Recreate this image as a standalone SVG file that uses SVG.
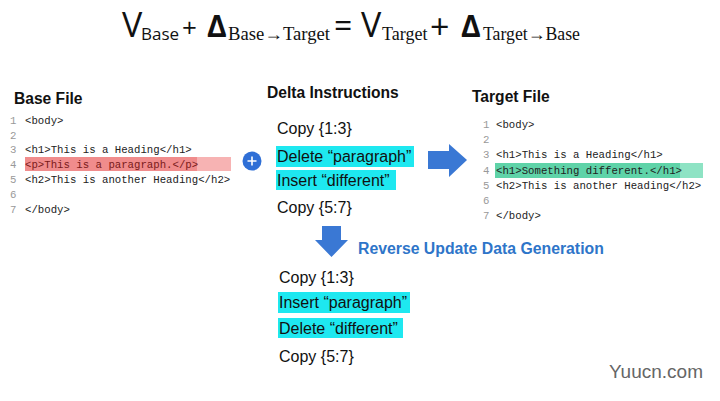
<svg xmlns="http://www.w3.org/2000/svg" width="720" height="401" viewBox="0 0 720 401">
<style>
.t{font-family:"Open Sans","Liberation Sans",sans-serif;fill:#111}
.s{font-family:"Liberation Serif",serif;fill:#111;font-size:18px}
.h{font-family:"Liberation Sans",Arial,sans-serif;font-weight:bold;font-size:15.6px;fill:#111}
.c{font-family:"Liberation Mono","DejaVu Sans Mono",monospace;font-size:10.7px;fill:#222}
.n{font-family:"Liberation Mono","DejaVu Sans Mono",monospace;font-size:10.7px;fill:#999}
.d{font-family:"Liberation Sans",Arial,sans-serif;font-size:16px;fill:#111}
.hl{fill:#1ee8f0}
.arrow{fill:#3a78d4}
</style>
<rect width="720" height="401" fill="#fff"/>
<g id="title">
<text class="t" x="122" y="37" font-size="34">V</text>
<text class="t" x="141" y="40" font-size="17">Base</text>
<text class="t" x="182" y="37" font-size="26">+</text>
<text class="t" x="207" y="37" font-size="30" font-weight="bold">Δ</text>
<text class="s" x="228" y="40" textLength="102" lengthAdjust="spacingAndGlyphs">Base→Target</text>
<text class="t" x="334" y="37" font-size="32">=</text>
<text class="t" x="361" y="37" font-size="34">V</text>
<text class="s" x="382" y="40">Target</text>
<text class="t" x="430" y="39" font-size="34">+</text>
<text class="t" x="461" y="37" font-size="30" font-weight="bold">Δ</text>
<text class="s" x="483" y="40" textLength="97" lengthAdjust="spacingAndGlyphs">Target→Base</text>
</g>
<g id="base-file">
<text class="h" x="14" y="104">Base File</text>
<rect x="25" y="157" width="206" height="14" fill="#f7b3b3"/>
<rect x="25" y="157" width="172" height="14" fill="#f08c8c"/>
<text class="n" x="10" y="124">1</text><text class="c" x="25" y="124">&lt;body&gt;</text>
<text class="n" x="10" y="139">2</text>
<text class="n" x="10" y="153">3</text><text class="c" x="25" y="153">&lt;h1&gt;This is a Heading&lt;/h1&gt;</text>
<text class="n" x="10" y="168">4</text><text class="c" x="25" y="168" style="fill:#7a1a1a">&lt;p&gt;This is a paragraph.&lt;/p&gt;</text>
<text class="n" x="10" y="183">5</text><text class="c" x="25" y="183">&lt;h2&gt;This is another Heading&lt;/h2&gt;</text>
<text class="n" x="10" y="198">6</text>
<text class="n" x="10" y="213">7</text><text class="c" x="25" y="213">&lt;/body&gt;</text>
</g>
<g id="plus">
<circle cx="252" cy="161" r="9.5" fill="#2f6fd6"/>
<path d="M247.5 161h9M252 156.5v9" stroke="#fff" stroke-width="1.6"/>
</g>
<g id="delta">
<text class="h" x="267" y="98">Delta Instructions</text>
<text class="d" x="277" y="134">Copy {1:3}</text>
<rect class="hl" x="276" y="146" width="138" height="21"/>
<text class="d" x="277" y="162">Delete “paragraph”</text>
<rect class="hl" x="276" y="170" width="120" height="20"/>
<text class="d" x="277" y="186">Insert “different”</text>
<text class="d" x="277" y="213">Copy {5:7}</text>
</g>
<g id="target-file">
<text class="h" x="472" y="102">Target File</text>
<rect x="495" y="163" width="208" height="15" fill="#8ee3c4"/>
<rect x="495" y="163" width="185" height="15" fill="#5fd3a8"/>
<text class="n" x="483" y="128">1</text><text class="c" x="496" y="128">&lt;body&gt;</text>
<text class="n" x="483" y="143">2</text>
<text class="n" x="483" y="158">3</text><text class="c" x="496" y="158">&lt;h1&gt;This is a Heading&lt;/h1&gt;</text>
<text class="n" x="483" y="174">4</text><text class="c" x="496" y="174">&lt;h1&gt;Something different.&lt;/h1&gt;</text>
<text class="n" x="483" y="189">5</text><text class="c" x="496" y="189">&lt;h2&gt;This is another Heading&lt;/h2&gt;</text>
<text class="n" x="483" y="204">6</text>
<text class="n" x="483" y="219">7</text><text class="c" x="496" y="219">&lt;/body&gt;</text>
</g>
<g id="connectors">
<path class="arrow" d="M428 151H449V144L467 160L449 177V169H428Z"/>
<path class="arrow" d="M322 226H341V240H348L331.5 257L315 240H322Z"/>
</g>
<g id="reverse">
<text x="358" y="254" font-family="Liberation Sans,Arial,sans-serif" font-weight="bold" font-size="15.8" fill="#2e75c9">Reverse Update Data Generation</text>
<text class="d" x="279" y="283">Copy {1:3}</text>
<rect class="hl" x="278" y="292" width="132" height="21"/>
<text class="d" x="279" y="308">Insert “paragraph”</text>
<rect class="hl" x="278" y="318" width="125" height="20"/>
<text class="d" x="279" y="334">Delete “different”</text>
<text class="d" x="279" y="362">Copy {5:7}</text>
</g>
<text x="609" y="378" font-family="Liberation Sans,Arial,sans-serif" font-size="19" fill="#666">Yuucn.com</text>
</svg>
